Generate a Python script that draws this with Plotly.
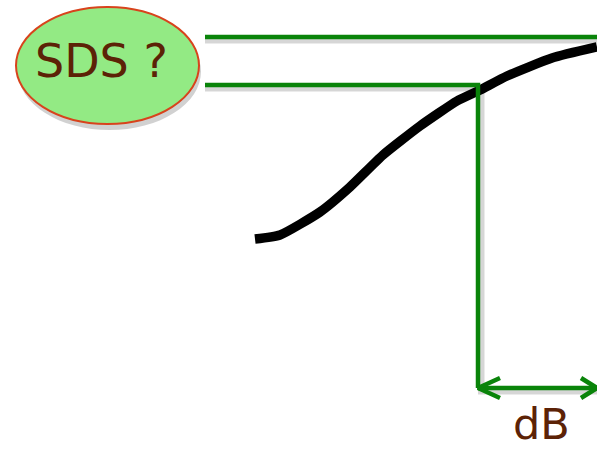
import plotly.graph_objects as go

# canvas units = pixels of the 597x449 picture (y grows downward)
curve_x = [255, 280, 320, 350, 383, 420, 457, 480, 507, 552, 597]
curve_y = [239, 235, 212, 187, 155, 126, 101, 90, 76, 58, 47]

level_top = 37
level_sds = 85
line_start = 205
db_x = 478
arrow_y = 388
right_edge = 597

bubble_box = [16, 7, 199, 124]   # x0, y0, x1, y1
bubble_text = "SDS ?"
db_text = "dB"

green = "#0A840A"
shadow = "rgba(0,0,0,0.16)"

fig = go.Figure()

def seg(xs, ys, color, width, dy=0):
    fig.add_trace(go.Scatter(x=xs, y=[v + dy for v in ys], mode="lines",
                             line=dict(color=color, width=width),
                             hoverinfo="skip", showlegend=False))

# shadows first
seg([line_start, right_edge], [level_top, level_top], shadow, 5, 4)
seg([line_start, db_x], [level_sds, level_sds], shadow, 5, 4)
seg([db_x + 4, db_x + 4], [level_sds + 4, arrow_y], shadow, 5)
seg([db_x, right_edge], [arrow_y, arrow_y], shadow, 5, 4)

# black response curve
fig.add_trace(go.Scatter(x=curve_x, y=curve_y, mode="lines",
                         line=dict(color="black", width=9.5, shape="spline", smoothing=0.5),
                         hoverinfo="skip", showlegend=False))

# green guide lines (drawn over the curve)
seg([line_start, right_edge], [level_top, level_top], green, 4.5)
seg([line_start, db_x, db_x], [level_sds, level_sds, arrow_y], green, 4.5)
seg([db_x, right_edge], [arrow_y, arrow_y], green, 4.5)
# arrow heads
seg([db_x + 22, db_x, db_x + 22], [arrow_y - 10, arrow_y, arrow_y + 10], green, 4.5)
seg([right_edge - 16, right_edge, right_edge - 16], [arrow_y - 10, arrow_y, arrow_y + 10], green, 4.5)

x0, y0, x1, y1 = bubble_box
fig.add_shape(type="circle", xref="x", yref="y", x0=x0 + 2, y0=y0 + 6, x1=x1 + 2, y1=y1 + 6,
              fillcolor="rgba(0,0,0,0.18)", line=dict(width=0), layer="below")
fig.add_shape(type="circle", xref="x", yref="y", x0=x0, y0=y0, x1=x1, y1=y1,
              fillcolor="#93EA84", line=dict(color="#D8431C", width=2), layer="below")

fig.add_annotation(x=(x0 + x1) / 2 - 6, y=(y0 + y1) / 2 - 5, text=bubble_text, showarrow=False,
                   font=dict(family="DejaVu Sans", size=46, color="#5C2206"))
fig.add_annotation(x=541, y=424, text=db_text, showarrow=False,
                   font=dict(family="DejaVu Sans", size=43, color="#5C2206"))

fig.update_layout(width=597, height=449, margin=dict(l=0, r=0, t=0, b=0),
                  plot_bgcolor="white", paper_bgcolor="white")
fig.update_xaxes(range=[0, 597], visible=False, fixedrange=True)
fig.update_yaxes(range=[449, 0], visible=False, fixedrange=True)

fig.write_html("out.html", config={"displayModeBar": False},
               post_script="document.body.style.margin='0';")
